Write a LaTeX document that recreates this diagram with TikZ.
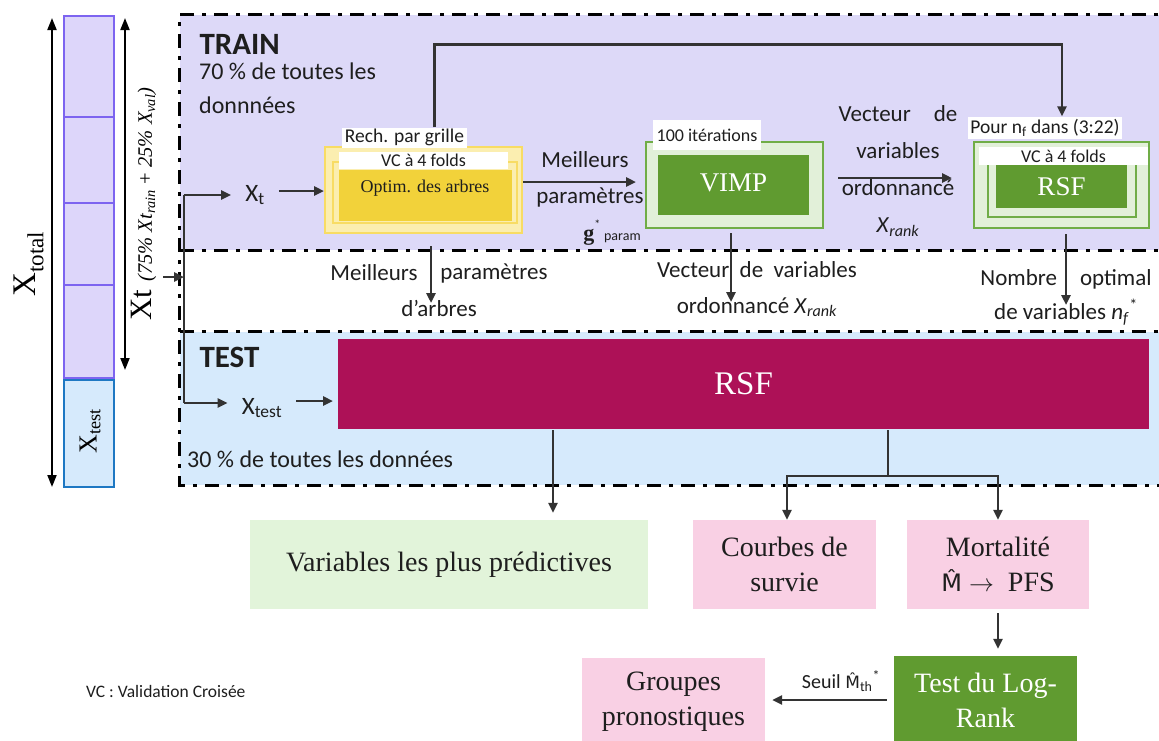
\documentclass[tikz,border=0pt]{standalone}
\usepackage{fontspec}
\setmainfont{Liberation Serif}
\setsansfont{Carlito}
\newfontfamily\hatfont{DejaVu Sans}
\usepackage{tikz}
\usetikzlibrary{arrows, positioning, calc, arrows.meta}
\tikzstyle{region} = [rectangle, draw=none, inner sep=0pt]
\tikzstyle{barCell} = [rectangle, minimum width=50pt, draw=colorBarEdge, fill=colorBarFill, line width=2.5pt, inner sep=0pt]
\tikzstyle{outerBox} = [rectangle, line width=2pt, inner sep=0pt]
\tikzstyle{tag} = [rectangle, fill=white, inner sep=0pt, text=colorText, font=\sffamily\fontsize{18}{18}\selectfont]
\tikzstyle{result} = [rectangle, inner sep=0pt, align=center, text=colorText, font=\fontsize{28}{35}\selectfont]
\tikzstyle{labelText} = [inner sep=0pt, align=center, text=colorText, font=\sffamily\fontsize{23}{37}\selectfont]
\tikzstyle{arrow} = [->, >={Triangle[length=10pt, width=9pt]}, line width=2.5pt, draw=colorLine]
\tikzstyle{dblArrow} = [<->, >={Triangle[length=12pt, width=9pt]}, line width=1.8pt, draw=black]
\tikzstyle{wire} = [line width=2.5pt, draw=colorLine]
\tikzstyle{frameLine} = [line width=3pt, dash pattern=on 14pt off 8pt on 4pt off 8pt, draw=black]
\definecolor{colorTrain}{RGB}{221, 217, 248}
\definecolor{colorTest}{RGB}{214, 234, 252}
\definecolor{colorBarFill}{RGB}{221, 214, 250}
\definecolor{colorBarEdge}{RGB}{125, 100, 240}
\definecolor{colorBarTest}{RGB}{30, 120, 195}
\definecolor{colorYelPale}{RGB}{251, 238, 176}
\definecolor{colorYelEdge}{RGB}{248, 220, 100}
\definecolor{colorYel}{RGB}{242, 210, 58}
\definecolor{colorGrnPale}{RGB}{226, 240, 217}
\definecolor{colorGrnEdge}{RGB}{112, 173, 71}
\definecolor{colorGrn}{RGB}{96, 155, 48}
\definecolor{colorRsf}{RGB}{173, 17, 87}
\definecolor{colorPink}{RGB}{249, 208, 228}
\definecolor{colorResult}{RGB}{226, 244, 218}
\definecolor{colorLine}{RGB}{51, 51, 51}
\definecolor{colorText}{RGB}{30, 30, 30}

\begin{document}
\begin{tikzpicture}[x=1pt, y=-1pt]

		\useasboundingbox (0,0) rectangle (1159,740);
		\clip (0,0) rectangle (1159,740);

		% train / test zones
		\node (trainZone)[region, fill=colorTrain, minimum width=1000pt, minimum height=235pt] at (680,132.5) {};
		\node (testZone)[region, fill=colorTest, minimum width=1000pt, minimum height=153pt] at (680,408.5) {};
		\draw[frameLine] (trainZone.north east) -- (trainZone.north west) -- (testZone.south west) -- (testZone.south east);
		\draw[frameLine] (trainZone.south west) -- (trainZone.south east);
		\draw[frameLine] (testZone.north west) -- (testZone.north east);

		% data bar
		\node (cellA)[barCell, minimum height=101pt] at (89,66.5) {};
		\node (cellB)[barCell, minimum height=86pt] at (89,160) {};
		\node (cellC)[barCell, minimum height=82pt] at (89,244) {};
		\node (cellD)[barCell, minimum height=93pt] at (89,331.5) {};
		\node (cellTest)[barCell, draw=colorBarTest, fill=colorTest, minimum height=107pt] at (89,433.5) {};
		\node (xTestBar)[rotate=90, font=\fontsize{26}{26}\selectfont] at (90,431) {X\textsubscript{test}};

		\coordinate (totalTop) at (52,18);
		\coordinate (totalBot) at (52,487);
		\coordinate (xtTop) at (125,18);
		\coordinate (xtBot) at (125,370);
		\draw[dblArrow] (totalTop) -- (totalBot);
		\draw[dblArrow] (xtTop) -- (xtBot);
		\node (xTotal)[rotate=90, font=\fontsize{33}{33}\selectfont] at (29,264) {X\textsubscript{total}};
		\node (xtLabel)[rotate=90] at (144,204) {\fontsize{31}{31}\selectfont Xt \fontsize{20.5}{20.5}\selectfont\itshape(75\% Xt\textsubscript{rain} \upshape+\itshape\ 25\% X\textsubscript{val})};

		% train
		\node (trainTitle)[anchor=west, text=colorText, font=\sffamily\bfseries\fontsize{31}{31}\selectfont] at (196,44) {TRAIN};
		\node (trainShare)[labelText, anchor=west, align=left, font=\sffamily\fontsize{24}{34}\selectfont] at (199,88) {70 \% de toutes les\\donnnées};
		\node (xT)[labelText, inner xsep=14pt, font=\sffamily\fontsize{25}{25}\selectfont] at (255,195) {X\textsubscript{t}};

		\node (optOuter)[outerBox, draw=colorYelEdge, fill=colorYelPale, minimum width=197pt, minimum height=86pt] at (423.5,190) {};
		\node (optMid)[outerBox, draw=colorYelEdge, fill=colorYelPale, minimum width=184pt, minimum height=61pt] at (425,192.5) {};
		\node (optInner)[outerBox, draw=none, fill=colorYel, minimum width=173pt, minimum height=51pt] at (425.5,195.5) {};
		\node (optText)[text=colorText, font=\fontsize{18}{18}\selectfont] at (425,188) {Optim. des arbres};
		\node (optFolds)[tag, minimum width=169pt, minimum height=17pt] at (423.5,160.5) {VC à 4 folds};
		\node (rechLabel)[tag, font=\sffamily\fontsize{19.5}{19.5}\selectfont, minimum width=125pt, minimum height=20pt] at (404.5,137.5) {Rech. par grille};

		\node (bestParamA)[labelText] at (585,160) {Meilleurs};
		\node (bestParamB)[labelText] at (590,197) {paramètres};
		\node (gParam)[labelText] at (612,233) {{\rmfamily\bfseries\fontsize{22}{22}\selectfont g}\raisebox{12pt}{\fontsize{12}{12}\selectfont *}\,{\fontsize{14}{14}\selectfont param}};

		\node (vimpOuter)[outerBox, draw=colorGrnEdge, fill=colorGrnPale, minimum width=177pt, minimum height=86pt] at (734.5,185) {};
		\node (vimpInner)[outerBox, draw=none, fill=colorGrn, text=white, font=\fontsize{27}{27}\selectfont, minimum width=151pt, minimum height=60pt] at (733.5,185) {\raisebox{4pt}{VIMP}};
		\node (iterLabel)[tag, minimum width=108pt, minimum height=30pt] at (707,135) {100 itérations};

		\node (rankLabel)[labelText] at (898,171) {Vecteur\quad de\\variables\\ordonnancé\\\textit{X}\textsubscript{\textit{rank}}};

		\node (rsfOuter)[outerBox, draw=colorGrnEdge, fill=colorGrnPale, minimum width=175pt, minimum height=86pt] at (1061.5,185) {};
		\node (rsfMid)[outerBox, draw=colorGrnEdge, fill=colorGrnPale, minimum width=148pt, minimum height=62pt] at (1062,186) {};
		\node (rsfInner)[outerBox, draw=none, fill=colorGrn, text=white, font=\fontsize{27}{27}\selectfont, minimum width=131pt, minimum height=43pt] at (1061.5,186.5) {RSF};
		\node (rsfFolds)[tag, minimum width=169pt, minimum height=18pt] at (1063.5,156) {VC à 4 folds};
		\node (pourLabel)[tag, font=\sffamily\fontsize{19.5}{19.5}\selectfont, minimum width=154pt, minimum height=22pt] at (1045,127.5) {Pour n\textsubscript{f} dans (3:22)};

		% outputs of train
		\node (bestTreeA)[labelText] at (374,273) {Meilleurs};
		\node (bestTreeB)[labelText] at (494,273) {paramètres};
		\node (bestTreeC)[labelText] at (439,308) {d’arbres};
		\node (rankOutA)[labelText] at (757,270) {Vecteur\ \ de\ \ variables};
		\node (rankOutB)[labelText] at (757,307) {ordonnancé \textit{X}\textsubscript{\textit{rank}}};
		\node (nfOutA)[labelText] at (1066,279) {Nombre\quad optimal};
		\node (nfOutB)[labelText] at (1066,312) {de variables \textit{n}\textsubscript{\textit{f}}\textsuperscript{*}};

		% test
		\node (testTitle)[anchor=west, text=colorText, font=\sffamily\bfseries\fontsize{31}{31}\selectfont] at (196,357) {TEST};
		\node (xTest)[labelText, inner xsep=14pt, font=\sffamily\fontsize{25}{25}\selectfont] at (262,408) {X\textsubscript{test}};
		\node (rsfTest)[outerBox, fill=colorRsf, text=white, font=\fontsize{33}{33}\selectfont, minimum width=811pt, minimum height=90pt] at (743.5,384) {RSF};
		\node (testShare)[labelText, anchor=west, font=\sffamily\fontsize{24}{24}\selectfont] at (187,459) {30 \% de toutes les données};

		% results
		\node (predVars)[result, fill=colorResult, minimum width=398pt, minimum height=89pt] at (449,564.5) {Variables les plus prédictives};
		\node (courbes)[result, fill=colorPink, minimum width=183pt, minimum height=89pt] at (784.5,564.5) {Courbes de\\survie};
		\node (mortalite)[result, fill=colorPink, minimum width=182pt, minimum height=89pt] at (998,564.5) {Mortalité\\{\hatfont\fontsize{24}{24}\selectfont M̂} $\rightarrow$\ \ PFS};
		\node (logRank)[result, fill=colorGrn, text=white, minimum width=183pt, minimum height=88pt] at (985.5,700) {Test du Log-\\Rank};
		\node (groupes)[result, fill=colorPink, minimum width=183pt, minimum height=88pt] at (673.5,702) {Groupes\\pronostiques};
		\node (seuilLabel)[labelText, font=\sffamily\fontsize{20}{20}\selectfont] at (841,681) {Seuil {\hatfont\fontsize{17}{17}\selectfont M̂}\textsubscript{th}\textsuperscript{*}};
		\node (vcNote)[labelText, anchor=west, font=\sffamily\fontsize{17.5}{17.5}\selectfont] at (86,691) {VC : Validation Croisée};

		% lines and arrows
		\coordinate (xtTip) at (163,277);
		\coordinate (busIn) at (184,277);
		\coordinate (busTop) at (184,195);
		\coordinate (busBot) at (184,403);
		\draw[arrow] (xtTip) -- (busIn);
		\draw[wire] (busTop) -- (busBot);
		\draw[arrow] (busTop) -- (xT);
		\draw[arrow] (busBot) -- (xTest.west |- busBot);
		\draw[arrow] (xT.east |- 0,191) -- (optOuter.west |- 0,191);
		\draw[arrow] ([yshift=8pt]optOuter.east) -- ([yshift=3pt]vimpOuter.west) [shorten >=9pt];
		\draw[arrow, shorten <=14pt, shorten >=21pt] (vimpOuter.east |- 0,178) -- (rsfOuter.west |- 0,178);
		\draw[arrow] ([xshift=30pt]rechLabel.north) -- ++(0,-83) -| ([xshift=17pt]pourLabel.north);

		\coordinate (bestTreeEnd) at (431,303);
		\coordinate (rankOutEnd) at (731,302);
		\coordinate (nfOutEnd) at (1066,305);
		\draw[arrow, shorten <=12pt] (optOuter.south -| bestTreeEnd) -- (bestTreeEnd);
		\draw[arrow, shorten <=4pt] (vimpOuter.south -| rankOutEnd) -- (rankOutEnd);
		\draw[arrow, shorten <=5pt] (rsfOuter.south -| nfOutEnd) -- (nfOutEnd);

		\draw[arrow] (xTest.east |- 0,401) -- (rsfTest.west |- 0,401) [shorten >=4pt];
		\draw[arrow, shorten >=7pt] (rsfTest.south -| 553,0) -- (predVars.north -| 553,0);
		\coordinate (branchPt) at (888,476);
		\draw[wire] (rsfTest.south -| branchPt) -- (branchPt);
		\draw[arrow] (branchPt) -| ([xshift=2.5pt]courbes.north);
		\draw[arrow] (branchPt) -| (mortalite.north);
		\draw[arrow, shorten <=4pt, shorten >=7pt] (mortalite.south) -- (logRank.north -| mortalite.south);
		\draw[arrow, shorten <=7pt, shorten >=7pt] (logRank.west) -- (groupes.east |- logRank.west);

	\end{tikzpicture}
\end{document}
